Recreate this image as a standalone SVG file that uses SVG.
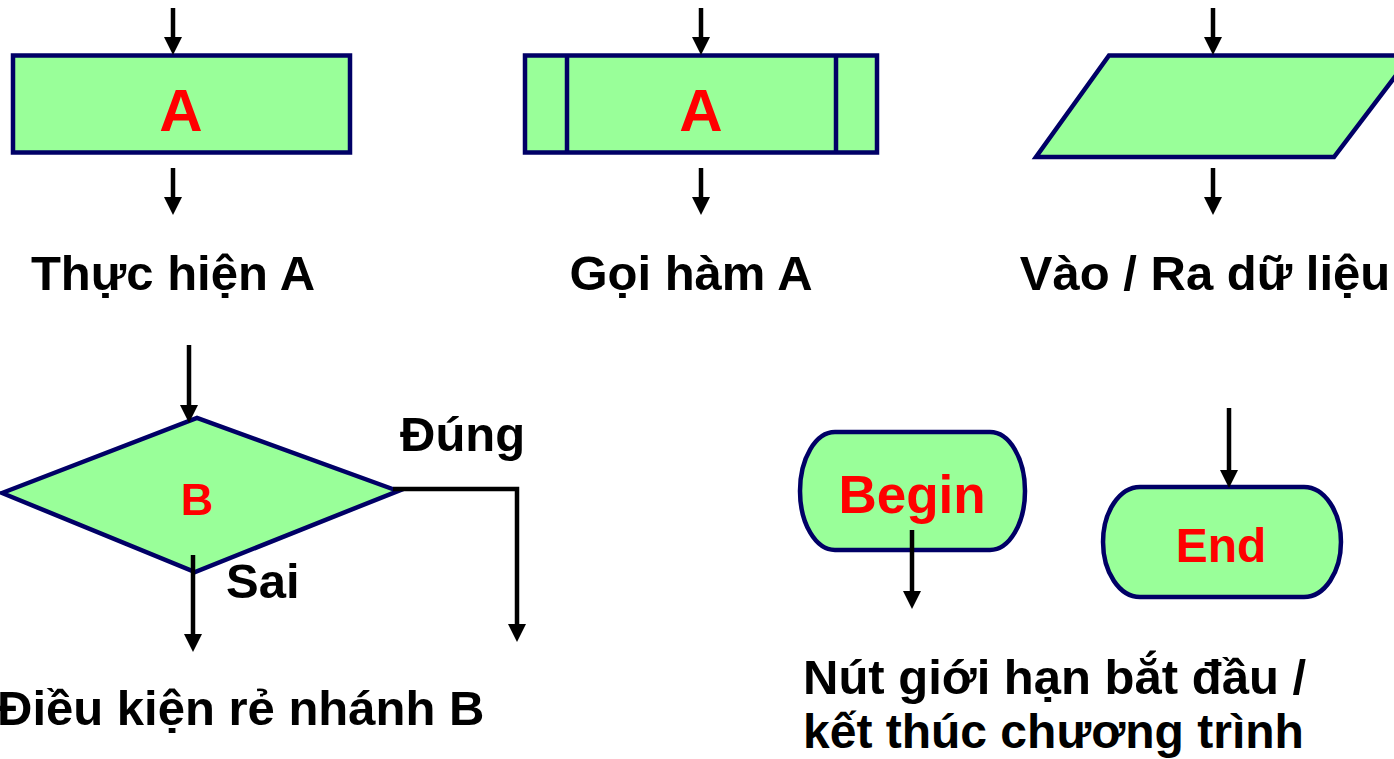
<svg xmlns="http://www.w3.org/2000/svg" width="1394" height="759" viewBox="0 0 1394 759">
<defs>
<marker id="ah" markerUnits="userSpaceOnUse" markerWidth="18" markerHeight="18" viewBox="0 0 18 18" refX="0" refY="9" orient="auto">
<path d="M0,0 L18,9 L0,18 Z" fill="#000"/>
</marker>
<style>
.shape{fill:#99FF99;stroke:#000066;stroke-width:4.5}
.sep{fill:none;stroke:#000066;stroke-width:4.5}
.arr{fill:none;stroke:#000;stroke-width:4.5;marker-end:url(#ah)}
.lbl{font-family:"Liberation Sans",Arial,sans-serif;font-weight:bold;fill:#000;font-size:49px}
.red{font-family:"Liberation Sans",Arial,sans-serif;font-weight:bold;fill:#FF0000;text-anchor:middle}
</style>
</defs>
<rect width="1394" height="759" fill="#fff"/>
<g id="node-thuc-hien">
<rect class="shape" x="13" y="55.5" width="337" height="97"/>
<text class="red" x="181" y="131" font-size="60">A</text>
</g>
<g id="node-goi-ham">
<rect class="shape" x="525" y="55.5" width="352" height="97"/>
<line class="sep" x1="567" y1="55.5" x2="567" y2="152.5"/>
<line class="sep" x1="836" y1="55.5" x2="836" y2="152.5"/>
<text class="red" x="701" y="131" font-size="60">A</text>
</g>
<g id="node-vao-ra">
<polygon class="shape" points="1109,55.5 1411,55.5 1334,157 1036,157"/>
</g>
<g id="node-dieu-kien">
<polygon class="shape" points="2,493 197,418 398,491 195,572"/>
<text class="red" x="197" y="515" font-size="45">B</text>
</g>
<g id="node-begin">
<path class="shape" d="M835,432 L990,432 A35,59 0 0 1 990,550 L835,550 A35,59 0 0 1 835,432 Z"/>
<text class="red" x="912" y="513" font-size="53">Begin</text>
</g>
<g id="node-end">
<path class="shape" d="M1140,487 L1304,487 A37,55 0 0 1 1304,597 L1140,597 A37,55 0 0 1 1140,487 Z"/>
<text class="red" x="1221" y="562" font-size="48">End</text>
</g>
<g id="connectors">
<line class="arr" x1="173" y1="8" x2="173" y2="37"/>
<line class="arr" x1="173" y1="168" x2="173" y2="197"/>
<line class="arr" x1="701" y1="8" x2="701" y2="37"/>
<line class="arr" x1="701" y1="168" x2="701" y2="197"/>
<line class="arr" x1="1213" y1="8" x2="1213" y2="37"/>
<line class="arr" x1="1213" y1="168" x2="1213" y2="197"/>
<line class="arr" x1="189" y1="345" x2="189" y2="405"/>
<line class="arr" x1="193" y1="555" x2="193" y2="634"/>
<polyline class="arr" points="393,489 517,489 517,624"/>
<line class="arr" x1="912" y1="530" x2="912" y2="591"/>
<line class="arr" x1="1229" y1="408" x2="1229" y2="470"/>
</g>
<g id="labels">
<text class="lbl" x="173" y="290" text-anchor="middle">Thực hiện A</text>
<text class="lbl" x="691" y="290" text-anchor="middle">Gọi hàm A</text>
<text class="lbl" x="1205" y="290" text-anchor="middle">Vào / Ra dữ liệu</text>
<text class="lbl" x="400" y="451">Đúng</text>
<text class="lbl" x="226" y="598">Sai</text>
<text class="lbl" x="-3" y="725">Điều kiện rẻ nhánh B</text>
<text class="lbl" x="803" y="694">Nút giới hạn bắt đầu /</text>
<text class="lbl" x="803" y="748" style="font-size:48px">kết thúc chương trình</text>
</g>
</svg>
